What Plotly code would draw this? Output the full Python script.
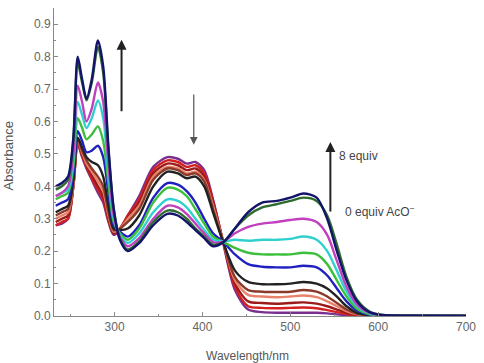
import plotly.graph_objects as go

wavelength = [233, 240, 247, 253, 258, 263, 268, 274, 281, 287, 293, 299, 306, 315, 328, 344,
              360, 372, 382, 392, 402, 412, 424, 437, 452, 468, 485, 500, 515, 530, 542, 553,
              564, 576, 590, 605, 640, 700]

abs_0eq = [0.28, 0.285, 0.30, 0.40, 0.53, 0.49, 0.455, 0.42, 0.38, 0.35, 0.29, 0.25, 0.265, 0.31, 0.37, 0.46,
           0.49, 0.485, 0.47, 0.475, 0.45, 0.36, 0.22, 0.08, 0.02, 0.012, 0.01, 0.01, 0.01, 0.01, 0.008, 0.005,
           0.003, 0.001, 0.0, 0.0, 0.0, 0.0]
abs_1 = [0.28, 0.29, 0.30, 0.40, 0.53, 0.495, 0.46, 0.425, 0.39, 0.36, 0.295, 0.255, 0.27, 0.31, 0.36, 0.45,
         0.48, 0.475, 0.46, 0.465, 0.44, 0.355, 0.225, 0.09, 0.03, 0.025, 0.024, 0.025, 0.026, 0.024, 0.018, 0.012,
         0.006, 0.002, 0.0, 0.0, 0.0, 0.0]
abs_2 = [0.29, 0.30, 0.31, 0.40, 0.535, 0.50, 0.465, 0.435, 0.40, 0.37, 0.30, 0.255, 0.27, 0.305, 0.35, 0.44,
         0.47, 0.465, 0.45, 0.455, 0.43, 0.35, 0.225, 0.10, 0.045, 0.04, 0.038, 0.04, 0.042, 0.038, 0.03, 0.02,
         0.01, 0.004, 0.001, 0.0, 0.0, 0.0]
abs_3 = [0.30, 0.31, 0.32, 0.40, 0.54, 0.505, 0.47, 0.445, 0.415, 0.385, 0.31, 0.26, 0.27, 0.30, 0.34, 0.43,
         0.46, 0.455, 0.44, 0.445, 0.42, 0.34, 0.225, 0.11, 0.065, 0.06, 0.058, 0.06, 0.063, 0.058, 0.045, 0.03,
         0.015, 0.005, 0.001, 0.0, 0.0, 0.0]
abs_4 = [0.31, 0.32, 0.33, 0.41, 0.545, 0.51, 0.48, 0.455, 0.43, 0.40, 0.32, 0.265, 0.27, 0.29, 0.33, 0.42,
         0.455, 0.45, 0.435, 0.44, 0.415, 0.33, 0.225, 0.12, 0.08, 0.075, 0.074, 0.075, 0.08, 0.075, 0.06, 0.04,
         0.02, 0.007, 0.002, 0.0, 0.0, 0.0]
abs_5 = [0.32, 0.33, 0.34, 0.42, 0.55, 0.52, 0.49, 0.475, 0.465, 0.43, 0.34, 0.27, 0.265, 0.27, 0.31, 0.40,
         0.445, 0.44, 0.425, 0.43, 0.40, 0.32, 0.225, 0.14, 0.105, 0.098, 0.098, 0.10, 0.105, 0.10, 0.085, 0.06,
         0.03, 0.01, 0.003, 0.0, 0.0, 0.0]
abs_6 = [0.34, 0.35, 0.36, 0.44, 0.57, 0.54, 0.505, 0.51, 0.525, 0.49, 0.38, 0.28, 0.26, 0.245, 0.28, 0.365,
         0.41, 0.405, 0.385, 0.35, 0.30, 0.255, 0.228, 0.19, 0.16, 0.152, 0.15, 0.15, 0.155, 0.15, 0.125, 0.085,
         0.045, 0.017, 0.004, 0.001, 0.0, 0.0]
abs_7 = [0.36, 0.37, 0.38, 0.46, 0.61, 0.58, 0.545, 0.56, 0.585, 0.54, 0.41, 0.29, 0.255, 0.235, 0.27, 0.35,
         0.395, 0.39, 0.37, 0.33, 0.285, 0.245, 0.228, 0.21, 0.195, 0.19, 0.19, 0.19, 0.195, 0.19, 0.16, 0.11,
         0.06, 0.022, 0.006, 0.001, 0.0, 0.0]
abs_8 = [0.37, 0.38, 0.39, 0.48, 0.66, 0.62, 0.58, 0.61, 0.665, 0.61, 0.44, 0.30, 0.25, 0.225, 0.255, 0.32,
         0.36, 0.355, 0.335, 0.30, 0.265, 0.235, 0.23, 0.235, 0.232, 0.235, 0.235, 0.238, 0.245, 0.235, 0.20, 0.14,
         0.075, 0.03, 0.008, 0.002, 0.0, 0.0]
abs_9 = [0.37, 0.38, 0.40, 0.50, 0.71, 0.66, 0.60, 0.64, 0.72, 0.66, 0.47, 0.31, 0.245, 0.215, 0.24, 0.30,
         0.34, 0.335, 0.315, 0.285, 0.255, 0.228, 0.23, 0.255, 0.275, 0.285, 0.29, 0.296, 0.30, 0.29, 0.25, 0.17,
         0.09, 0.035, 0.01, 0.002, 0.0, 0.0]
abs_10 = [0.39, 0.40, 0.42, 0.54, 0.78, 0.72, 0.665, 0.72, 0.83, 0.75, 0.51, 0.33, 0.24, 0.205, 0.23, 0.29,
          0.325, 0.32, 0.30, 0.27, 0.245, 0.22, 0.228, 0.27, 0.31, 0.335, 0.345, 0.355, 0.365, 0.355, 0.31, 0.22,
          0.12, 0.05, 0.014, 0.003, 0.001, 0.0]
abs_8eq = [0.40, 0.41, 0.43, 0.55, 0.80, 0.73, 0.67, 0.73, 0.85, 0.77, 0.52, 0.33, 0.235, 0.20, 0.225, 0.28,
           0.315, 0.31, 0.29, 0.265, 0.24, 0.215, 0.228, 0.27, 0.32, 0.35, 0.355, 0.365, 0.378, 0.365, 0.30, 0.20,
           0.11, 0.045, 0.012, 0.003, 0.001, 0.0]

series = [abs_0eq, abs_1, abs_2, abs_3, abs_4, abs_5, abs_6, abs_7, abs_8, abs_9, abs_10, abs_8eq]
colors = ["#7a2e8e", "#d42020", "#9b1b1b", "#e8826a", "#8b3a2a", "#222222",
          "#2020c0", "#3cbf3c", "#30d0d0", "#c040c0", "#2e6b2e", "#14146a"]

fig = go.Figure()
for vals, col in zip(series, colors):
    fig.add_trace(go.Scatter(x=wavelength, y=vals, mode="lines",
                             line=dict(color=col, width=2.4, shape="spline", smoothing=0.8),
                             showlegend=False, hoverinfo="skip"))

axis_common = dict(showline=True, linecolor="#888888", linewidth=1, showgrid=False, zeroline=False,
                   ticks="inside", ticklen=4, tickcolor="#888888",
                   tickfont=dict(family="Liberation Sans, Arial", size=12, color="#666666"))

fig.update_xaxes(range=[231, 700], tick0=0, dtick=100, **axis_common,
                 minor=dict(ticks="inside", ticklen=2, dtick=50, tick0=0, tickcolor="#888888"))
fig.update_yaxes(range=[0, 0.95], tick0=0, dtick=0.1, tickformat=".1f", **axis_common,
                 minor=dict(ticks="inside", ticklen=2, dtick=0.05, tick0=0, tickcolor="#888888"))

txt_font = dict(family="Liberation Sans, Arial", size=12, color="#444444")
annotations = [
    dict(x=0.47, y=-0.13, xref="paper", yref="paper", text="Wavelength/nm", showarrow=False,
         font=dict(family="Liberation Sans, Arial", size=12, color="#555555"), xanchor="center", yanchor="middle"),
    dict(x=-0.11, y=0.52, xref="paper", yref="paper", text="Absorbance", showarrow=False, textangle=-90,
         font=dict(family="Liberation Sans, Arial", size=13, color="#555555"), xanchor="center", yanchor="middle"),
    dict(x=307.9, y=0.852, ax=307.9, ay=0.627, xref="x", yref="y", axref="x", ayref="y", text="",
         showarrow=True, arrowhead=2, arrowsize=1, arrowwidth=2, arrowcolor="#222222"),
    dict(x=390.1, y=0.528, ax=390.1, ay=0.688, xref="x", yref="y", axref="x", ayref="y", text="",
         showarrow=True, arrowhead=2, arrowsize=1.3, arrowwidth=1.2, arrowcolor="#555555"),
    dict(x=545.6, y=0.537, ax=545.6, ay=0.318, xref="x", yref="y", axref="x", ayref="y", text="",
         showarrow=True, arrowhead=2, arrowsize=1, arrowwidth=2, arrowcolor="#222222"),
    dict(x=553.5, y=0.494, xref="x", yref="y", text="8 equiv", showarrow=False, xanchor="left",
         yanchor="middle", font=txt_font),
    dict(x=560, y=0.324, xref="x", yref="y", text="0 equiv AcO<sup>−</sup>", showarrow=False, xanchor="left",
         yanchor="middle", font=txt_font),
]

fig.update_layout(width=484, height=363, margin=dict(l=54, r=14, t=8, b=47),
                  plot_bgcolor="white", paper_bgcolor="white", annotations=annotations)

fig.write_html("out.html", config={"displayModeBar": False},
               post_script="document.body.style.margin='0';document.body.style.overflow='hidden';")
